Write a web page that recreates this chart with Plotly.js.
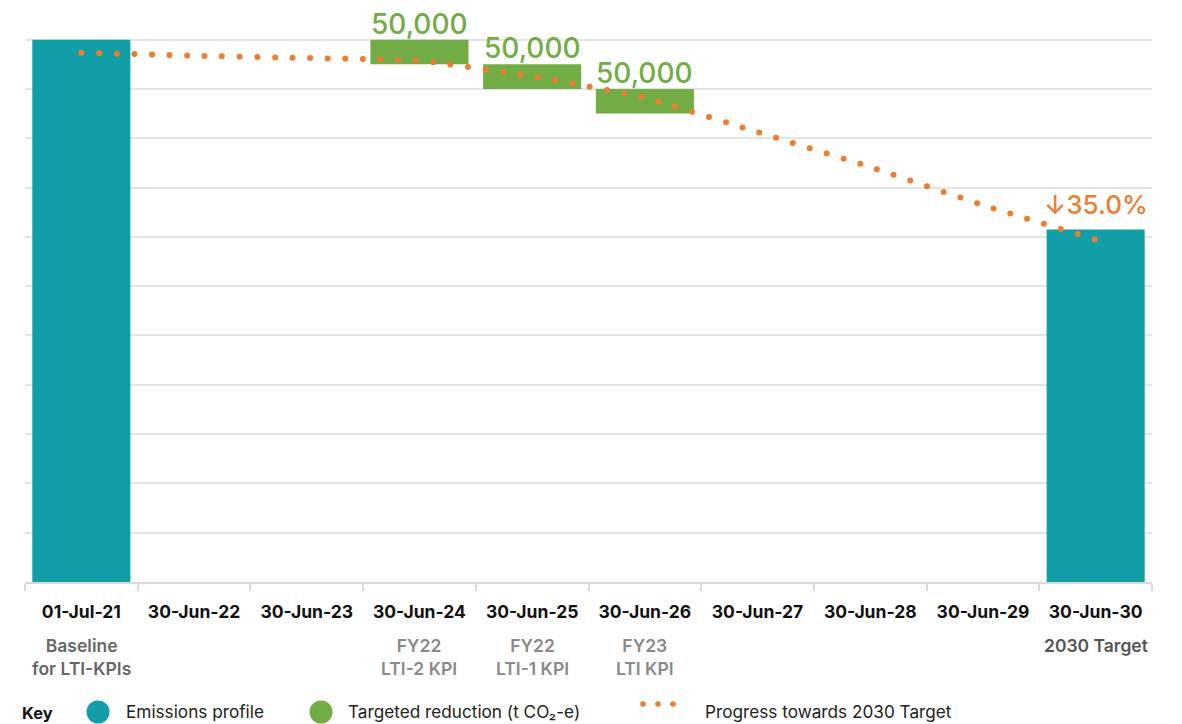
<!DOCTYPE html>
<html>
<head>
<meta charset="utf-8">
<script src="https://cdn.plot.ly/plotly-3.0.1.min.js"></script>
<style>
  html, body { margin: 0; padding: 0; background: #fff; }
  #chart { width: 1182px; height: 724px; }
  .scatterlayer .js-line { stroke-linecap: round !important; }
</style>
</head>
<body>
<div id="chart"></div>
<script>
// ---------- data ----------
const categories = ['01-Jul-21', '30-Jun-22', '30-Jun-23', '30-Jun-24', '30-Jun-25',
                    '30-Jun-26', '30-Jun-27', '30-Jun-28', '30-Jun-29', '30-Jun-30'];
const subLabels = ['Baseline<br>for LTI-KPIs', '', '', 'FY22<br>LTI-2 KPI', 'FY22<br>LTI-1 KPI',
                   'FY23<br>LTI KPI', '', '', '', '2030 Target'];
const subLabelColors = ['#666666', '', '', '#8a8a8a', '#8a8a8a', '#8a8a8a', '', '', '', '#555555'];
const baselineValue = 1100000;
const targetReductionPct = 35.0;
const reductionCategories = ['30-Jun-24', '30-Jun-25', '30-Jun-26'];
const reductionValues = [50000, 50000, 50000];
const progressValues = [1073600, 1067500, 1062700, 1057400, 1025600,
                        982400, 912600, 841700, 764400, 694500];
const legendLabels = ['Emissions profile', 'Targeted reduction (t CO\u2082-e)', 'Progress towards 2030 Target'];

// ---------- derived ----------
const targetValue = baselineValue * (1 - targetReductionPct / 100);
const reductionBases = [];
let running = baselineValue;
reductionValues.forEach(v => { running -= v; reductionBases.push(running); });

const TEAL = '#129ea6';
const GREEN = '#72ac44';
const ORANGE = '#ee7d31';
const FONT = 'Inter, "DejaVu Sans", sans-serif';

const traces = [
  {
    type: 'bar', x: [categories[0], categories[categories.length - 1]],
    y: [baselineValue, targetValue], marker: { color: TEAL },
    hoverinfo: 'skip', showlegend: false
  },
  {
    type: 'bar', x: reductionCategories, y: reductionValues, base: reductionBases,
    marker: { color: GREEN }, hoverinfo: 'skip', showlegend: false
  },
  {
    type: 'scatter', mode: 'lines', x: categories, y: progressValues,
    line: { color: ORANGE, width: 6, dash: '0px,17.6px', shape: 'spline', smoothing: 0.4 },
    hoverinfo: 'skip', showlegend: false
  }
];

const annotations = [];
reductionCategories.forEach((c, i) => {
  annotations.push({
    x: c, y: reductionBases[i] + reductionValues[i], xref: 'x', yref: 'y',
    yanchor: 'bottom', xanchor: 'center', showarrow: false, yshift: -3,
    text: reductionValues[i].toLocaleString('en-US'),
    font: { family: FONT, size: 28, color: GREEN, weight: 500 }
  });
});
annotations.push({
  x: categories[categories.length - 1], y: targetValue, xref: 'x', yref: 'y',
  yanchor: 'bottom', xanchor: 'center', showarrow: false, yshift: 7,
  text: '\u2193' + targetReductionPct.toFixed(1) + '%',
  font: { family: FONT, size: 26, color: ORANGE, weight: 500 }
});
subLabels.forEach((t, i) => {
  if (!t) return;
  annotations.push({
    x: categories[i], y: -0.09, xref: 'x', yref: 'paper', yanchor: 'top',
    showarrow: false, text: t, align: 'center',
    font: { family: FONT, size: 17.5, color: subLabelColors[i], weight: 600 }
  });
});

// ---------- manual key (legend) ----------
const plotL = 25, plotW = 1127, plotB = 582, plotH = 567;
const px = v => (v - plotL) / plotW;
const py = v => (plotB - v) / plotH;
annotations.push({
  x: px(20), y: py(713), xref: 'paper', yref: 'paper', xanchor: 'left', yanchor: 'middle',
  showarrow: false, text: '<b>Key</b>', font: { family: FONT, size: 16.5, color: '#111' }
});
[[124, 712], [346, 712], [703, 712]].forEach((p, i) => {
  annotations.push({
    x: px(p[0]), y: py(p[1]), xref: 'paper', yref: 'paper', xanchor: 'left', yanchor: 'middle',
    showarrow: false, text: legendLabels[i], font: { family: FONT, size: 17.2, color: '#222' }
  });
});
const shapes = [];
[[98, TEAL], [321, GREEN]].forEach(c => {
  shapes.push({
    type: 'circle', xref: 'paper', yref: 'paper', xsizemode: 'pixel', ysizemode: 'pixel',
    xanchor: px(c[0]), yanchor: py(712), x0: -11.5, x1: 11.5, y0: -11.5, y1: 11.5,
    fillcolor: c[1], line: { width: 0 }
  });
});
[643, 658, 673].forEach(x => {
  shapes.push({
    type: 'circle', xref: 'paper', yref: 'paper', xsizemode: 'pixel', ysizemode: 'pixel',
    xanchor: px(x), yanchor: py(704), x0: -2.8, x1: 2.8, y0: -2.8, y1: 2.8,
    fillcolor: ORANGE, line: { width: 0 }
  });
});

const layout = {
  width: 1182, height: 724,
  margin: { l: 25, r: 30, t: 15, b: 142 },
  paper_bgcolor: '#fff', plot_bgcolor: '#fff',
  barmode: 'overlay', bargap: 0.13,
  showlegend: false,
  font: { family: FONT },
  xaxis: {
    type: 'category', categoryorder: 'array', categoryarray: categories,
    showgrid: false, zeroline: false,
    showline: true, linecolor: '#d9d9d9', linewidth: 2,
    ticks: 'outside', tickson: 'boundaries', ticklen: 7, tickwidth: 2, tickcolor: '#d9d9d9',
    ticklabelstandoff: 13,
    tickfont: { family: FONT, size: 17.5, color: '#111', weight: 700 },
    fixedrange: true
  },
  yaxis: {
    range: [0, 1150000], showticklabels: false, ticks: '',
    dtick: 100000, tick0: 0,
    showgrid: true, gridcolor: '#e4e4e4', gridwidth: 2,
    zeroline: false, showline: false, fixedrange: true
  },
  annotations: annotations,
  shapes: shapes
};

Plotly.newPlot('chart', traces, layout, { displayModeBar: false, staticPlot: true });
</script>
</body>
</html>
